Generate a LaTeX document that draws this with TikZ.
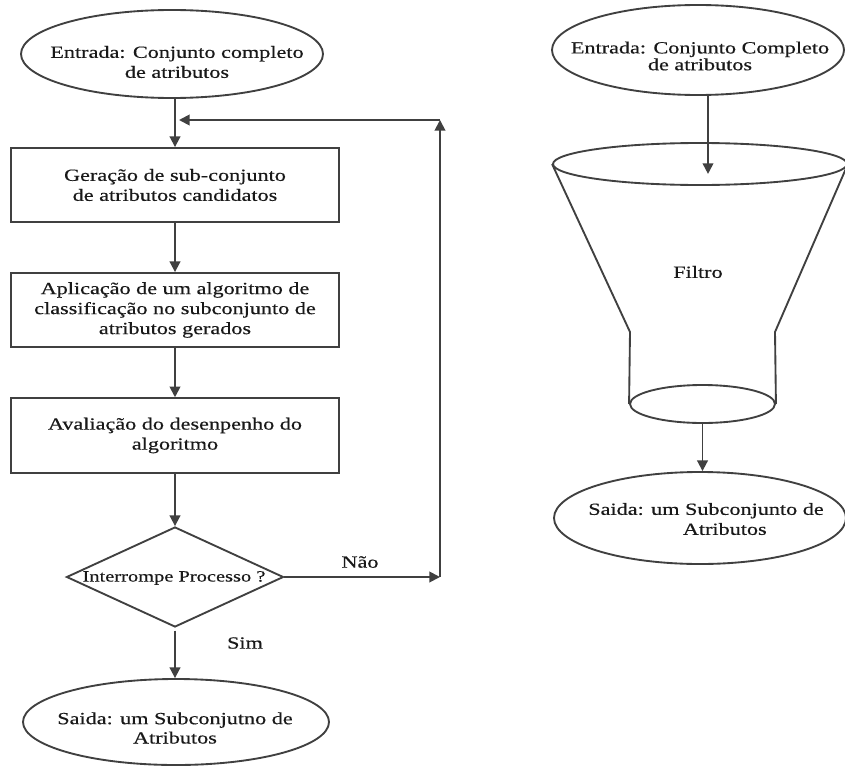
\documentclass[tikz,border=0pt]{standalone}
\usepackage{fontspec}
\setmainfont{Liberation Serif}[FakeStretch=1.3,FakeBold=0.4]
\usetikzlibrary{shapes.geometric,arrows.meta}
\begin{document}
\begin{tikzpicture}[x=0.75pt,y=-0.75pt,
  ln/.style={line width=1.4pt,draw=black!75},
  arr/.style={ln,-{Triangle[length=8pt,width=8pt]}},
  txt/.style={align=center,inner sep=0pt,text=black!90,
    font=\fontsize{12.8pt}{15pt}\selectfont},
  oval/.style={ellipse,ln,inner sep=0pt},
  stepbox/.style={rectangle,ln,txt,minimum width=246pt,minimum height=55.5pt}]
\useasboundingbox[fill=white] (0,0) rectangle (845,767);

% ---- left: wrapper-style selection loop ----
\node[oval,minimum width=226.5pt,minimum height=66pt] (inL) at (172,54) {};
\node[txt] (inLt) at (177,62) {Entrada: Conjunto completo\\de atributos};

\node[stepbox] (gen) at (175,185) {Geração de sub-conjunto\\de atributos candidatos};
\node[stepbox] (apl) at (175,310) {Aplicação de um algoritmo de\\classificação no subconjunto de\\atributos gerados};
\node[stepbox,minimum height=56pt] (ava) at (175,435.5) {Avaliação do desenpenho do\\algoritmo};

\node[diamond,ln,inner sep=0pt,minimum width=162.75pt,minimum height=75pt] (dec) at (175,577) {};
\node[txt,font=\fontsize{11.8pt}{14pt}\selectfont] (dect) at (174,578) {Interrompe Processo ?};

\node[oval,minimum width=229.5pt,minimum height=64.5pt] (outL) at (176,722) {};
\node[txt,font=\fontsize{12.8pt}{14.5pt}\selectfont] (outLt) at (175,728) {Saida: um Subconjutno de\\Atributos};

\coordinate (join) at (175,120);
\coordinate (back) at (440,120);
\coordinate (nao)  at (440,577);

\draw[arr] (inL.south -| join) -- (gen.north);
\draw[arr] (back) -- ([xshift=3pt]join);
\draw[arr] (gen.south) -- (apl.north);
\draw[arr] (apl.south) -- (ava.north);
\draw[arr] (ava.south) -- (dec.north);
\draw[arr] ([yshift=-2pt]dec.south) -- (outL.north -| dec.south);
\draw[arr] (dec.east) -- (nao);
\draw[arr] (nao) -- (back);

\node[txt] (naoLbl) at (360,562) {Não};
\node[txt] (simLbl) at (245,643) {Sim};

% ---- right: filter approach ----
\node[oval,minimum width=219pt,minimum height=67.5pt] (inR) at (698,50) {};
\node[txt,font=\fontsize{12.8pt}{11.5pt}\selectfont] (inRt) at (700,56) {Entrada: Conjunto Completo\\de atributos};

\node[oval,minimum width=220.5pt,minimum height=31.5pt] (mouth) at (700,164) {};
\node[oval,minimum width=108.75pt,minimum height=28.5pt] (neck) at (702.5,404) {};
\coordinate (shL) at (630,332);
\coordinate (shR) at (775,332);
\draw[ln] (mouth.west) -- (shL) -- (neck.west);
\draw[ln] (mouth.east) -- (shR) -- (neck.east);
\node[txt] (filtro) at (698,272) {Filtro};

\node[oval,minimum width=219pt,minimum height=69pt] (outR) at (700,518) {};
\node[txt] (outRt) at (706,519) {Saida: um Subconjunto de\\\hspace*{2.2em}Atributos};

\draw[arr] ([xshift=7.5pt]inR.south) -- ++(0,78);
\draw[arr] (neck.south) -- (outR.north -| neck.south);
\end{tikzpicture}
\end{document}
